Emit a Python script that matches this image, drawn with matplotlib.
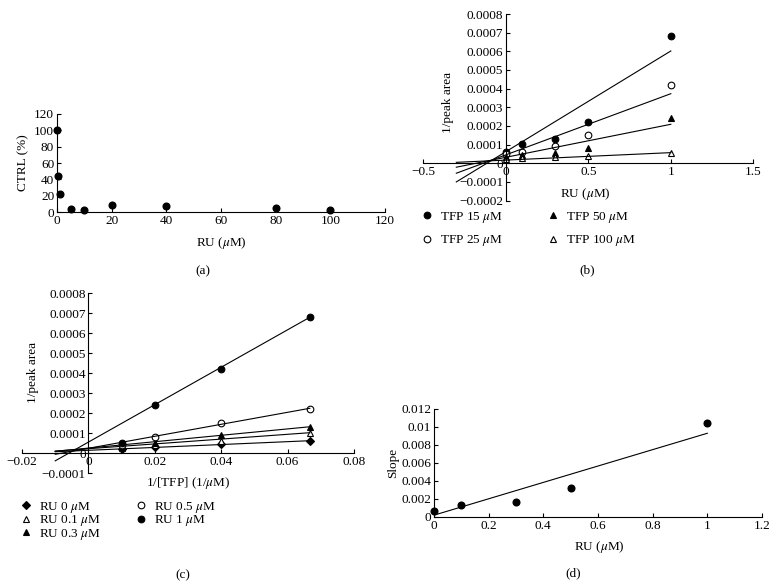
import numpy as np
import matplotlib
matplotlib.use('Agg')
import matplotlib.pyplot as plt
from matplotlib.ticker import FuncFormatter
from matplotlib.lines import Line2D

plt.rcParams['font.family'] = 'Liberation Serif'
plt.rcParams['mathtext.fontset'] = 'stix'
plt.rcParams['font.size'] = 9.5

# (a) CTRL (%) against RU
ru_a = [0, 0.5, 1, 5, 10, 20, 40, 80, 100]
ctrl_a = [100, 44, 22, 3.5, 3, 8, 7, 5, 3]

# 1/peak area, one row per RU concentration, one column per TFP concentration
ru = [0, 0.1, 0.3, 0.5, 1]
tfp = [15, 25, 50, 100]
inv_tfp = [0.0667, 0.04, 0.02, 0.01]
inv_peak = [
    [0.000060, 0.000048, 0.000033, 0.000022],
    [0.000101, 0.000062, 0.000042, 0.000026],
    [0.000131, 0.000092, 0.000054, 0.000032],
    [0.000222, 0.000153, 0.000081, 0.000040],
    [0.000680, 0.000420, 0.000243, 0.000054],
]

# trend lines as drawn in the figure (slope, intercept)
b_slope = [0.00054, 0.000328, 0.000177, 0.00004]
b_icept = [0.000062, 0.000045, 0.000032, 0.000017]
b_line_x = [-0.3, 1]

c_slope = [0.00072, 0.0012, 0.0016, 0.0030, 0.00936]
c_icept = [0.000015, 0.000023, 0.000026, 0.000025, 0.000056]
c_line_x = [-0.01, 0.0667]

# (d) slopes of the (c) lines against RU
d_slope = [0.00065, 0.0013, 0.0017, 0.0032, 0.0104]
d_fit = (0.0091, 0.0002)
d_line_x = [0, 1]

tfp_labels = ['TFP 15 $\\mu$M', 'TFP 25 $\\mu$M', 'TFP 50 $\\mu$M', 'TFP 100 $\\mu$M']
ru_labels = ['RU 0 $\\mu$M', 'RU 0.1 $\\mu$M', 'RU 0.3 $\\mu$M', 'RU 0.5 $\\mu$M', 'RU 1 $\\mu$M']

# marker, face colour
tfp_marks = [('o', 'black'), ('o', 'white'), ('^', 'black'), ('^', 'white')]
ru_marks = [('D', 'black'), ('^', 'white'), ('^', 'black'), ('o', 'white'), ('o', 'black')]


def fmt(v, pos):
    v = round(v, 6)
    if v == 0:
        return '0'
    s = '{:g}'.format(abs(v))
    return ('\u2212' if v < 0 else '') + s


def style(ax, at_zero=False):
    for s in ['top', 'right']:
        ax.spines[s].set_visible(False)
    for s in ['left', 'bottom']:
        ax.spines[s].set_linewidth(0.8)
        if at_zero:
            ax.spines[s].set_position(('data', 0))
    ax.tick_params(direction='in', length=3, width=0.8, pad=2)
    ax.xaxis.set_major_formatter(FuncFormatter(fmt))
    ax.yaxis.set_major_formatter(FuncFormatter(fmt))


fig = plt.figure(figsize=(7.78, 5.87), dpi=100)

# ---- (a)
ax = fig.add_axes([0.0733, 0.6388, 0.4216, 0.1670])
style(ax)
ax.plot(ru_a, ctrl_a, 'o', color='black', ms=4.8, clip_on=False)
ax.set_xlim(0, 120)
ax.set_ylim(0, 120)
ax.set_xticks(np.arange(0, 121, 20))
ax.set_yticks(np.arange(0, 121, 20))
ax.set_xlabel('RU ($\\mu$M)', va='center')
ax.xaxis.set_label_coords(0.5, -0.319)
ax.set_ylabel('CTRL (%)', va='center')
ax.yaxis.set_label_coords(-0.104, 0.5)
fig.text(0.261, 0.538, '(a)', ha='center', va='center')

# ---- (b)
ax = fig.add_axes([0.5441, 0.6583, 0.4242, 0.3178])
style(ax, at_zero=True)
handles = []
for j in range(len(tfp)):
    m, fc = tfp_marks[j]
    y = [row[j] for row in inv_peak]
    ax.plot(ru, y, m, mfc=fc, mec='black', mew=0.8, ms=4.8, clip_on=False)
    xs = np.array(b_line_x)
    ax.plot(xs, b_slope[j] * xs + b_icept[j], color='black', lw=0.8)
    handles.append(Line2D([], [], ls='none', marker=m, mfc=fc, mec='black', mew=0.8, ms=4.8))
ax.set_xlim(-0.5, 1.5)
ax.set_ylim(-0.0002, 0.0008)
ax.set_xticks([-0.5, 0, 0.5, 1, 1.5])
ax.set_yticks(np.round(np.arange(-0.0002, 0.00081, 0.0001), 6))
ax.set_xlabel('RU ($\\mu$M)', va='center')
ax.xaxis.set_label_coords(0.49, 0.035)
ax.set_ylabel('1/peak area', va='center')
ax.yaxis.set_label_coords(0.075, 0.526)
fig.legend(handles, tfp_labels, ncol=2, loc='upper left', bbox_to_anchor=(0.540, 0.643),
           frameon=False, borderpad=0, borderaxespad=0, handlelength=1.0,
           handletextpad=0.5, columnspacing=3.3, labelspacing=0.65)
fig.text(0.7545, 0.54, '(b)', ha='center', va='center')

# ---- (c)
ax = fig.add_axes([0.0283, 0.1937, 0.4267, 0.3066])
style(ax, at_zero=True)
handles = []
for i in range(len(ru)):
    m, fc = ru_marks[i]
    ms = 4.0 if m == 'D' else 4.8
    ax.plot(inv_tfp, inv_peak[i], m, mfc=fc, mec='black', mew=0.8, ms=ms, clip_on=False)
    xs = np.array(c_line_x)
    ax.plot(xs, c_slope[i] * xs + c_icept[i], color='black', lw=0.8)
    handles.append(Line2D([], [], ls='none', marker=m, mfc=fc, mec='black', mew=0.8, ms=ms))
ax.set_xlim(-0.02, 0.08)
ax.set_ylim(-0.0001, 0.0008)
ax.set_xticks(np.round(np.arange(-0.02, 0.081, 0.02), 4))
ax.set_yticks(np.round(np.arange(-0.0001, 0.00081, 0.0001), 6))
ax.set_xlabel('1/[TFP] (1/$\\mu$M)', va='center')
ax.xaxis.set_label_coords(0.5, -0.052)
ax.set_ylabel('1/peak area', va='center')
ax.yaxis.set_label_coords(0.033, 0.563)
fig.legend(handles, ru_labels, ncol=2, loc='upper left', bbox_to_anchor=(0.025, 0.149),
           frameon=False, borderpad=0, borderaxespad=0, handlelength=1.0,
           handletextpad=0.5, columnspacing=2.5, labelspacing=-0.1)
fig.text(0.235, 0.0204, '(c)', ha='center', va='center')

# ---- (d)
ax = fig.add_axes([0.5578, 0.1193, 0.4216, 0.1840])
style(ax)
ax.plot(ru, d_slope, 'o', color='black', ms=4.8, clip_on=False)
xs = np.array(d_line_x)
ax.plot(xs, d_fit[0] * xs + d_fit[1], color='black', lw=0.8)
ax.set_xlim(0, 1.2)
ax.set_ylim(0, 0.012)
ax.set_xticks(np.round(np.arange(0, 1.21, 0.2), 2))
ax.set_yticks(np.round(np.arange(0, 0.0121, 0.002), 4))
ax.set_xlabel('RU ($\\mu$M)', va='center')
ax.xaxis.set_label_coords(0.503, -0.278)
ax.set_ylabel('Slope', va='center')
ax.yaxis.set_label_coords(-0.125, 0.5)
fig.text(0.7365, 0.0239, '(d)', ha='center', va='center')

fig.savefig('out.png', dpi=100)
